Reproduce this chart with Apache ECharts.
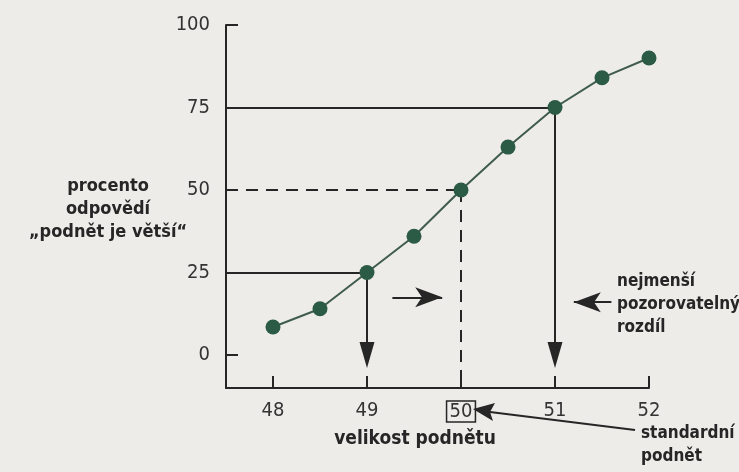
<!DOCTYPE html>
<html>
<head>
<meta charset="utf-8">
<script src="https://cdn.jsdelivr.net/npm/echarts@6/dist/echarts.min.js"></script>
<style>
  html, body { margin: 0; padding: 0; background: #eeece9; }
  #chart { width: 739px; height: 472px; }
</style>
</head>
<body>
<div id="chart"></div>
<script>
// stimulus size vs. percent of "greater" answers
const stimulus = [48, 48.5, 49, 49.5, 50, 50.5, 51, 51.5, 52]
const percent = [8.5, 14, 25, 36, 50, 63, 75, 84, 90]
const xTicks = [48, 49, 50, 51, 52]
const yTicks = [0, 25, 50, 75, 100]

const font = '"Liberation Sans Narrow", "DejaVu Sans Condensed", "Roboto", sans-serif'
const ink = '#262626'

const solid = { color: ink, width: 2, type: 'solid' }
const dashed = { color: ink, width: 2, type: [12, 8] }

const down = { symbol: 'triangle', symbolSize: [15, 26] }
const side = { symbol: 'arrow', symbolSize: [15, 27] }

// guide lines + arrows (data coords)
const guides = [
  [{ coord: [47.5, 75], symbol: 'none' }, { coord: [51, 75], symbol: 'none' }],
  [{ coord: [51, 75], symbol: 'none' }, Object.assign({ coord: [51, 0] }, down)],
  [{ coord: [47.5, 25], symbol: 'none' }, { coord: [49, 25], symbol: 'none' }],
  [{ coord: [49, 25], symbol: 'none' }, Object.assign({ coord: [49, 0] }, down)],
  [{ coord: [47.5, 50], symbol: 'none', lineStyle: dashed }, { coord: [50, 50], symbol: 'none' }],
  [{ coord: [50, 50], symbol: 'none', lineStyle: dashed }, { coord: [50, -10], symbol: 'none' }],
  [{ coord: [49.27, 17.5], symbol: 'none' }, Object.assign({ coord: [49.8, 17.5] }, side)],
  [{ coord: [51.6, 16], symbol: 'none' }, Object.assign({ coord: [51.2, 16] }, side)]
]

const chart = echarts.init(document.getElementById('chart'))

const boldText = (x, y, text, align, size) => ({
  type: 'text',
  x: x,
  y: y,
  style: {
    text: text,
    font: 'bold ' + (size || 18) + 'px ' + font,
    fill: ink,
    textAlign: align || 'left',
    textVerticalAlign: 'middle'
  }
})

chart.setOption({
  backgroundColor: '#eeece9',
  animation: false,
  grid: { left: 226, top: 25, right: 90, bottom: 84 },
  xAxis: {
    type: 'value',
    min: 47.5,
    max: 52,
    axisLine: { onZero: false, lineStyle: { color: ink, width: 2 } },
    axisTick: { inside: true, length: 12, customValues: xTicks, lineStyle: { color: ink, width: 2 } },
    axisLabel: {
      customValues: xTicks,
      margin: 13,
      color: '#333',
      fontSize: 20,
      fontFamily: font,
      formatter: v => v === 50 ? '{box|50}' : String(v),
      rich: {
        box: {
          fontSize: 20,
          fontFamily: font,
          color: '#333',
          borderColor: ink,
          borderWidth: 1.5,
          padding: [1, 3, 0, 3]
        }
      }
    },
    splitLine: { show: false }
  },
  yAxis: {
    type: 'value',
    min: -10,
    max: 100,
    axisLine: { show: true, onZero: false, lineStyle: { color: ink, width: 2 } },
    axisTick: { show: true, inside: true, length: 12, customValues: [0, 100], lineStyle: { color: ink, width: 2 } },
    axisLabel: {
      customValues: yTicks,
      margin: 16,
      color: '#333',
      fontSize: 20,
      fontFamily: font
    },
    splitLine: { show: false }
  },
  series: [
    {
      type: 'line',
      data: stimulus.map((x, i) => [x, percent[i]]),
      symbol: 'circle',
      symbolSize: 15,
      itemStyle: { color: '#2b5a45' },
      lineStyle: { color: '#3f5c4e', width: 2 },
      z: 5,
      markLine: {
        silent: true,
        label: { show: false },
        lineStyle: solid,
        itemStyle: { color: ink },
        data: guides
      }
    }
  ],
  graphic: [
    boldText(108, 186, 'procento', 'center'),
    boldText(108, 209, 'odpovědí', 'center'),
    boldText(108, 232, '„podnět je větší“', 'center'),
    boldText(415, 439, 'velikost podnětu', 'center', 19),
    boldText(617, 282, 'nejmenší', 'left', 17),
    boldText(617, 305, 'pozorovatelný', 'left', 17),
    boldText(617, 328, 'rozdíl', 'left', 17),
    boldText(641, 434, 'standardní', 'left', 17),
    boldText(641, 457, 'podnět', 'left', 17),
    {
      type: 'line',
      shape: { x1: 635, y1: 430, x2: 490, y2: 412 },
      style: { stroke: ink, lineWidth: 2 }
    },
    {
      type: 'polygon',
      shape: { points: [[473, 409], [495, 403], [490, 412], [493, 421]] },
      style: { fill: ink }
    }
  ]
})
</script>
</body>
</html>
